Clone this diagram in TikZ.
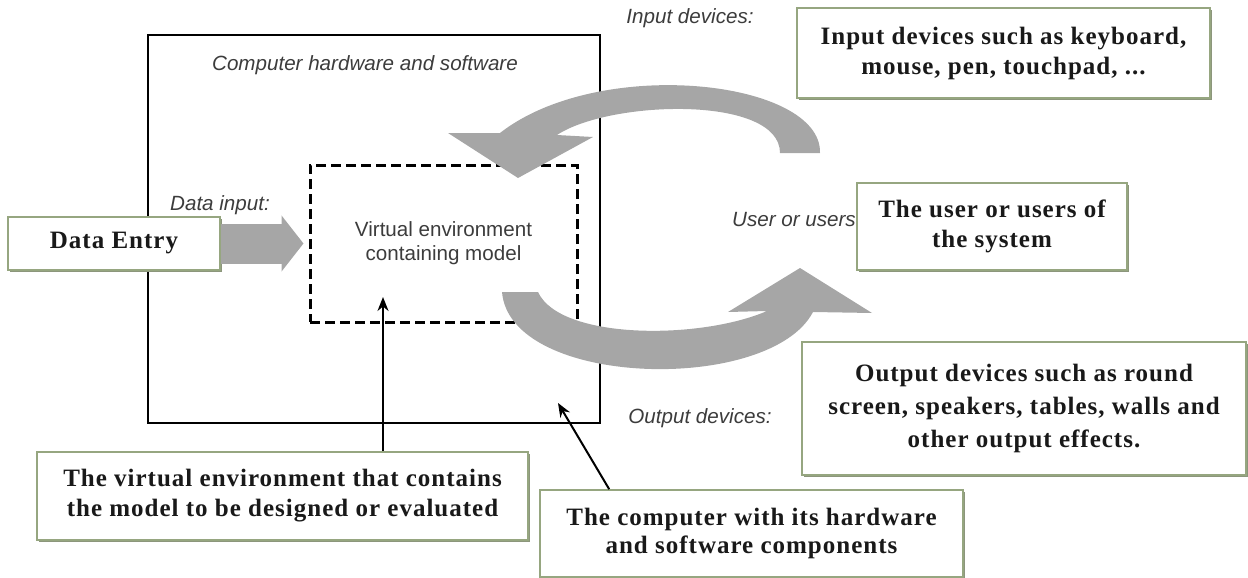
\documentclass[tikz,border=0pt]{standalone}
\usepackage{fontspec}
\setmainfont{Liberation Serif}
\setsansfont{Liberation Sans}
\newfontfamily\boxfont[LetterSpace=4]{Liberation Serif}
\usepackage{tikz}
\usetikzlibrary{arrows.meta, shadows}

\definecolor{boxline}{RGB}{150,166,128}
\definecolor{boxshade}{RGB}{140,150,124}
\definecolor{flowgray}{RGB}{166,166,166}
\definecolor{labelgray}{RGB}{60,60,60}

\begin{document}
\begin{tikzpicture}[
    x=0.5pt, y=-0.5pt,
    note/.style={draw=boxline, fill=white, line width=0.8pt, align=center,
                 inner sep=2pt, text=black!90,
                 font=\boxfont\bfseries\fontsize{12.5}{15}\selectfont,
                 drop shadow={shadow xshift=1.2pt, shadow yshift=-1.2pt,
                              fill=boxshade, opacity=1}},
    tag/.style={font=\sffamily\itshape\fontsize{10.3}{12}\selectfont, text=labelgray},
    pointer/.style={-{Stealth[length=7pt, width=5.5pt]}, line width=1pt},
    flow/.style={fill=flowgray, draw=none},
]
    \useasboundingbox (0,0) rectangle (1248,578);

    % computer box and the model inside it
    \node[draw, line width=1.3pt, minimum width=226pt, minimum height=194pt] (hw) at (374,229) {};
    \node[tag] (hwlabel) at (365,65) {Computer hardware and software};
    \node[draw, dash pattern=on 5pt off 2.5pt, line width=1.5pt,
          minimum width=133.5pt, minimum height=78.5pt, align=center,
          font=\sffamily\fontsize{10.3}{12}\selectfont, text=labelgray] (venv) at (443.5,243.5)
          {Virtual environment\\containing model};

    % input loop (top) and output loop (bottom)
    \fill[flow] (820,153) .. controls (822,80) and (600,55) .. (500,133)
        -- (448,133) -- (518,178) -- (593,137) -- (557,135)
        .. controls (610,100) and (780,95) .. (780,153) -- cycle;
    \fill[flow] (502,292) .. controls (510,388) and (770,394) .. (813,312)
        -- (872,313) -- (800,268) -- (728,312) -- (767,311)
        .. controls (700,340) and (560,340) .. (538,292) -- cycle;

    % labels
    \node[tag] (inlabel) at (690,18) {Input devices:};
    \node[tag] (datalabel) at (220,205) {Data input:};
    \node[tag] (userlabel) at (794,220) {User or users};
    \node[tag] (outlabel) at (700,418) {Output devices:};

    % text boxes
    \node[note, minimum width=106pt, minimum height=26.5pt] (dentry) at (114,243.5) {Data Entry};
    \node[note, minimum width=206.5pt, minimum height=45pt] (indev) at (1003.5,53)
        {Input devices such as keyboard,\\mouse, pen, touchpad, ...};
    \node[note, minimum width=135pt, minimum height=43.5pt] (user) at (992,226.5)
        {The user or users of\\the system};
    \node[note, minimum width=222pt, minimum height=66.5pt,
          font=\boxfont\bfseries\fontsize{12.5}{16.5}\selectfont] (outdev) at (1024,408.5)
        {Output devices such as round\\screen, speakers, tables, walls and\\other output effects.};
    \node[note, minimum width=245.5pt, minimum height=44pt] (virt) at (282.5,496)
        {The virtual environment that contains\\the model to be designed or evaluated};
    \node[note, minimum width=211.5pt, minimum height=43.5pt,
          font=\boxfont\bfseries\fontsize{12.5}{14}\selectfont] (comp) at (751.5,533.5)
        {The computer with its hardware\\and software components};

    % data entry feeds the model
    \draw[flowgray, line width=20pt, -{Triangle[length=11pt, width=27.5pt]}, shorten >=2.5pt]
        (dentry.east) -- (dentry.east -| venv.west);

    % pointers from the captions
    \coordinate (venvtip) at (383,297);
    \coordinate (hwtip) at (558,403);
    \draw[pointer] (virt.north -| venvtip) -- (venvtip);
    \draw[pointer] ([xshift=35pt]comp.north west) -- (hwtip);
\end{tikzpicture}
\end{document}
